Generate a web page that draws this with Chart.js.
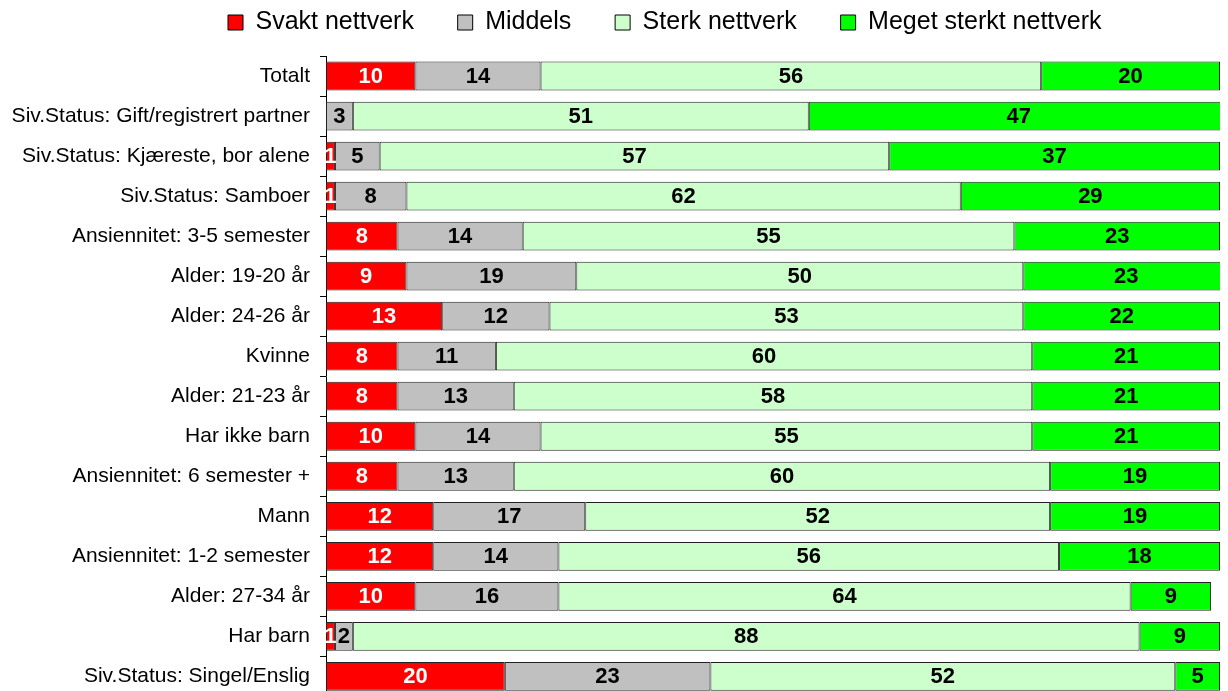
<!DOCTYPE html>
<html>
<head>
<meta charset="utf-8">
<script src="https://cdn.jsdelivr.net/npm/chart.js@4/dist/chart.umd.min.js"></script>
<style>
  html, body { margin: 0; padding: 0; background: #fff; overflow: hidden; }
  #wrap { position: relative; width: 1228px; height: 719px; }
</style>
</head>
<body>
<div id="wrap"><canvas id="nettverkChart"></canvas></div>
<script>
// categories, top to bottom
var categories = [
  "Totalt",
  "Siv.Status: Gift/registrert partner",
  "Siv.Status: Kjæreste, bor alene",
  "Siv.Status: Samboer",
  "Ansiennitet: 3-5 semester",
  "Alder: 19-20 år",
  "Alder: 24-26 år",
  "Kvinne",
  "Alder: 21-23 år",
  "Har ikke barn",
  "Ansiennitet: 6 semester +",
  "Mann",
  "Ansiennitet: 1-2 semester",
  "Alder: 27-34 år",
  "Har barn",
  "Siv.Status: Singel/Enslig"
];

var svakt       = [10, 0, 1, 1, 8, 9, 13, 8, 8, 10, 8, 12, 12, 10, 1, 20];
var middels     = [14, 3, 5, 8, 14, 19, 12, 11, 13, 14, 13, 17, 14, 16, 2, 23];
var sterk       = [56, 51, 57, 62, 55, 50, 53, 60, 58, 55, 60, 52, 56, 64, 88, 52];
var megetSterkt = [20, 47, 37, 29, 23, 23, 22, 21, 21, 21, 19, 19, 18, 9, 9, 5];

var seriesNames = ["Svakt nettverk", "Middels", "Sterk nettverk", "Meget sterkt nettverk"];
var seriesColors = ["#FF0000", "#C0C0C0", "#CCFFCC", "#00FF00"];
var labelColors = ["#FFFFFF", "#000000", "#000000", "#000000"];

var FONT = "'Liberation Sans', Arial, sans-serif";

// draws the value in the middle of each segment
var barLabels = {
  id: "barLabels",
  afterDatasetsDraw: function (chart) {
    var ctx = chart.ctx;
    ctx.save();
    ctx.font = "bold 22px " + FONT;
    ctx.textAlign = "center";
    ctx.textBaseline = "middle";
    chart.data.datasets.forEach(function (ds, di) {
      var meta = chart.getDatasetMeta(di);
      meta.data.forEach(function (bar, i) {
        var v = ds.data[i];
        if (!v) return;
        var cx = (bar.x + bar.base) / 2;
        ctx.fillStyle = labelColors[di];
        ctx.fillText(String(v), cx, bar.y + 1);
      });
    });
    ctx.restore();
  }
};

// the legend in the original sits a bit right of centre and close to the top
var legendShift = {
  id: "legendShift",
  afterLayout: function (chart) {
    var lg = chart.legend;
    if (!lg) return;
    var pad = lg.options.labels.padding;
    var lw = (lg.lineWidths && lg.lineWidths[0]) || 0;
    var natural = (lg.left + pad + lg.right - lw) / 2;
    var dx = lw ? 228 - natural : 45;
    lg.left += dx;
    lg.right += dx;
    lg.top -= 11;
    lg.bottom -= 11;
  }
};

var allSeries = [svakt, middels, sterk, megetSterkt];
var datasets = allSeries.map(function (vals, i) {
  return {
    label: seriesNames[i],
    data: vals,
    backgroundColor: seriesColors[i],
    borderColor: "#222222",
    borderWidth: 1,
    borderSkipped: false,
    barPercentage: 0.72,
    categoryPercentage: 1.0
  };
});

new Chart(document.getElementById("nettverkChart"), {
  type: "bar",
  data: { labels: categories, datasets: datasets },
  plugins: [barLabels, legendShift],
  options: {
    indexAxis: "y",
    responsive: true,
    maintainAspectRatio: false,
    animation: false,
    layout: { padding: { left: 0, right: 8, top: 5, bottom: 0 } },
    plugins: {
      tooltip: { enabled: false },
      legend: {
        position: "top",
        labels: {
          color: "#000",
          font: { family: FONT, size: 25 },
          boxWidth: 15,
          boxHeight: 15,
          padding: 16,
          generateLabels: function (chart) {
            return chart.data.datasets.map(function (ds, i) {
              var last = i === chart.data.datasets.length - 1;
              return {
                text: last ? ds.label : ds.label + "    ",
                fillStyle: ds.backgroundColor,
                strokeStyle: "#000",
                lineWidth: 1,
                datasetIndex: i
              };
            });
          }
        }
      }
    },
    scales: {
      x: {
        stacked: true,
        min: 0,
        max: 100,
        display: false
      },
      y: {
        stacked: true,
        afterFit: function (scale) { scale.width = 326; },
        border: { display: true, color: "#000", width: 1 },
        grid: {
          offset: true,
          drawOnChartArea: false,
          drawTicks: true,
          tickLength: 6,
          color: "#000"
        },
        ticks: {
          color: "#000",
          padding: 10,
          font: { family: FONT, size: 21 }
        }
      }
    }
  }
});
</script>
</body>
</html>
